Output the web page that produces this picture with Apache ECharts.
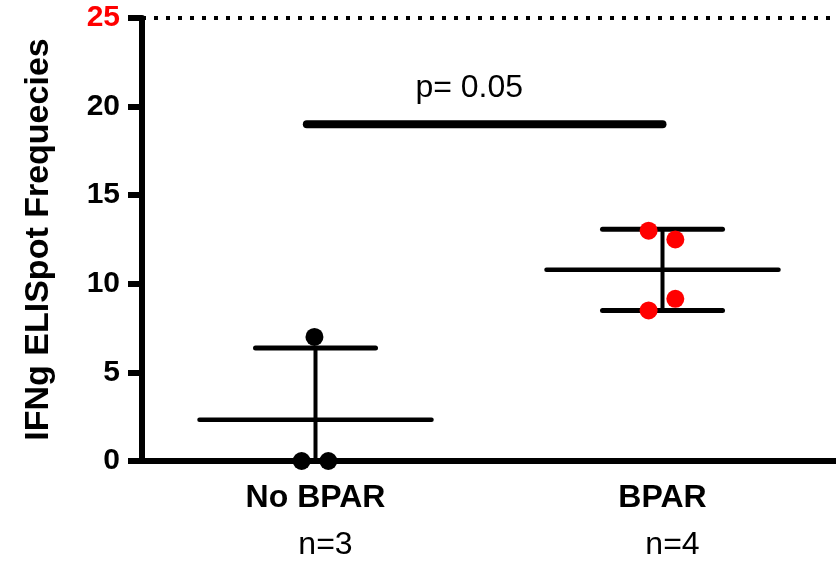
<!DOCTYPE html>
<html>
<head>
<meta charset="utf-8">
<script src="https://cdn.jsdelivr.net/npm/echarts@6/dist/echarts.min.js"></script>
<style>
  html, body { margin: 0; padding: 0; background: #fff; }
  #chart { width: 836px; height: 563px; }
</style>
</head>
<body>
<div id="chart"></div>
<script>
// Groups and their sizes
const groups = ['No BPAR', 'BPAR'];
const groupSizes = ['n=3', 'n=4'];
const yTicks = [0, 5, 10, 15, 20, 25];

// Individual IFNg ELISpot frequencies (x = group position with small horizontal jitter)
const noBparValues = [0, 0, 7.0];
const noBparX = [0.96, 1.037, 0.997];
const bparValues = [13.0, 12.5, 9.15, 8.5];
const bparX = [1.96, 2.037, 2.037, 1.96];

// Significance annotation
const pValueText = 'p= 0.05';
const sigBarY = 19;
const sigBarX = [0.975, 2.0];
const pTextX = 1.443;

// Dotted reference line at the top of the scale
const refLineY = 25;

const FONT = '"Liberation Sans", Arial, Helvetica, sans-serif';

function meanSd(v) {
  const n = v.length;
  const m = v.reduce((a, b) => a + b, 0) / n;
  const sd = Math.sqrt(v.reduce((a, b) => a + (b - m) * (b - m), 0) / (n - 1));
  return [m, sd];
}

const summary = [noBparValues, bparValues].map((v, i) => {
  const [m, sd] = meanSd(v);
  return [i + 1, m, m - sd, m + sd];
});

const chart = echarts.init(document.getElementById('chart'), null, { renderer: 'canvas' });

chart.setOption({
  backgroundColor: '#fff',
  animation: false,
  grid: { left: 142, right: -6, top: 18, bottom: 102, containLabel: false },
  xAxis: [
    {
      type: 'category',
      data: groups,
      boundaryGap: true,
      axisLine: { lineStyle: { color: '#000', width: 6 } },
      axisTick: { alignWithLabel: true, length: 16, lineStyle: { color: '#000', width: 6 } },
      axisLabel: {
        margin: 17,
        formatter: (val, idx) => '{a|' + val + '}\n{b|' + groupSizes[idx] + '}',
        rich: {
          a: { fontFamily: FONT, fontSize: 32, fontWeight: 'bold', color: '#000', lineHeight: 40 },
          b: { fontFamily: FONT, fontSize: 32, color: '#000', lineHeight: 54, padding: [0, 0, 0, 20] }
        }
      },
      splitLine: { show: false }
    },
    {
      type: 'value',
      min: 0.5,
      max: 2.5,
      show: false,
      splitLine: { show: false }
    }
  ],
  yAxis: {
    type: 'value',
    min: 0,
    max: 25,
    interval: 5,
    name: 'IFNg ELISpot Frequecies',
    nameLocation: 'middle',
    nameGap: 86,
    nameTextStyle: { fontFamily: FONT, fontSize: 34, fontWeight: 'bold', color: '#000' },
    axisLine: { show: true, lineStyle: { color: '#000', width: 6 } },
    axisTick: { show: true, length: 14, lineStyle: { color: '#000', width: 6 } },
    axisLabel: {
      margin: 22,
      fontFamily: FONT,
      fontSize: 30,
      fontWeight: 'bold',
      color: (val) => (Number(val) === yTicks[yTicks.length - 1] ? '#ff0000' : '#000')
    },
    splitLine: { show: false }
  },
  series: [
    {
      // dotted line at the top of the scale
      type: 'line',
      xAxisIndex: 1,
      data: [[0.5, refLineY], [2.5, refLineY]],
      symbol: 'none',
      lineStyle: { color: '#000', width: 4, type: [4, 8] },
      z: 1
    },
    {
      // significance bar
      type: 'line',
      xAxisIndex: 1,
      data: sigBarX.map(x => [x, sigBarY]),
      symbol: 'none',
      lineStyle: { color: '#000', width: 8, cap: 'round' },
      z: 2
    },
    {
      // p-value text above the bar
      type: 'scatter',
      xAxisIndex: 1,
      data: [[pTextX, sigBarY]],
      symbolSize: 0,
      itemStyle: { opacity: 1 },
      label: {
        show: true,
        position: 'top',
        distance: 20,
        formatter: pValueText,
        fontFamily: FONT,
        fontSize: 32,
        color: '#000',
        opacity: 1
      },
      silent: true,
      z: 2
    },
    {
      // mean with SD error bars
      type: 'custom',
      xAxisIndex: 1,
      data: summary,
      renderItem: (params, api) => {
        const x = api.value(0), m = api.value(1), lo = api.value(2), hi = api.value(3);
        const loClamped = Math.max(lo, 0);
        const pM = api.coord([x, m]);
        const pH = api.coord([x, hi]);
        const pL = api.coord([x, loClamped]);
        const MEAN_HALF = 116, CAP_HALF = 60;
        const children = [
          { type: 'line', shape: { x1: pM[0] - MEAN_HALF, y1: pM[1], x2: pM[0] + MEAN_HALF, y2: pM[1] },
            style: { stroke: '#000', lineWidth: 4.5, lineCap: 'round' } },
          { type: 'line', shape: { x1: pH[0], y1: pH[1], x2: pL[0], y2: pL[1] },
            style: { stroke: '#000', lineWidth: 4 } },
          { type: 'line', shape: { x1: pH[0] - CAP_HALF, y1: pH[1], x2: pH[0] + CAP_HALF, y2: pH[1] },
            style: { stroke: '#000', lineWidth: 5, lineCap: 'round' } }
        ];
        if (lo >= 0) {
          children.push({ type: 'line', shape: { x1: pL[0] - CAP_HALF, y1: pL[1], x2: pL[0] + CAP_HALF, y2: pL[1] },
            style: { stroke: '#000', lineWidth: 5, lineCap: 'round' } });
        }
        return { type: 'group', children };
      },
      z: 3
    },
    {
      type: 'scatter',
      name: 'No BPAR',
      xAxisIndex: 1,
      data: noBparValues.map((v, i) => [noBparX[i], v]),
      symbol: 'circle',
      symbolSize: 18,
      itemStyle: { color: '#000', opacity: 1 },
      clip: false,
      z: 5
    },
    {
      type: 'scatter',
      name: 'BPAR',
      xAxisIndex: 1,
      data: bparValues.map((v, i) => [bparX[i], v]),
      symbol: 'circle',
      symbolSize: 18,
      itemStyle: { color: '#ff0000', opacity: 1 },
      clip: false,
      z: 5
    }
  ]
});
</script>
</body>
</html>
